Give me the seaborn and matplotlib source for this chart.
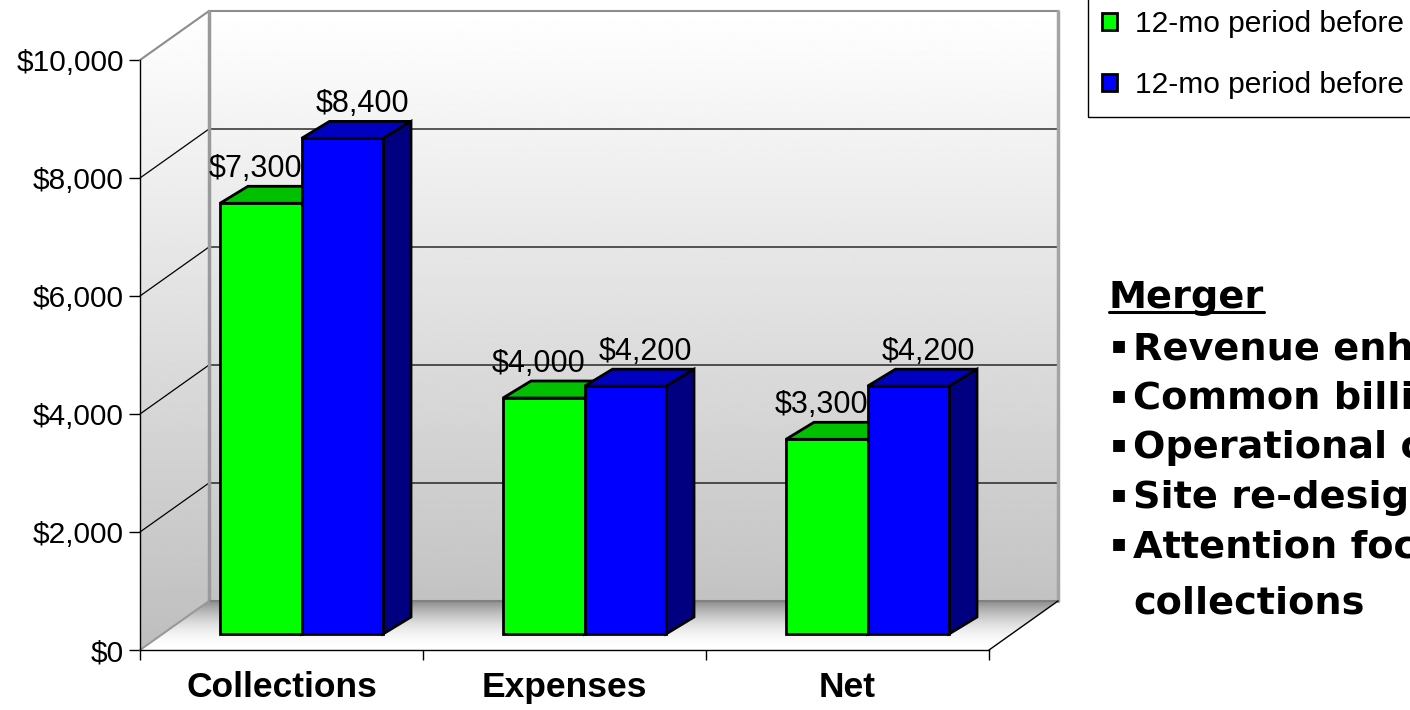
import numpy as np
import pandas as pd
import matplotlib
matplotlib.use("Agg")
import matplotlib.pyplot as plt
from matplotlib.patches import Polygon, Rectangle, Patch
from matplotlib.lines import Line2D
from matplotlib.ticker import FuncFormatter
import seaborn as sns

# ---- data ----
categories = ["Collections", "Expenses", "Net"]
periods = ["period_1", "period_2"]
legend_labels = ["12-mo period before", "12-mo period before"]
values_period_1 = [7300, 4000, 3300]
values_period_2 = [8400, 4200, 4200]
y_ticks = [0, 2000, 4000, 6000, 8000, 10000]

notes_title = "Merger"
notes = ["Revenue enhancement", "Common billing", "Operational consolidation",
         "Site re-design", "Attention focused on"]
notes_wrap = "collections"

# ---- style ----
front_colors = ["#00ff00", "#0000ff"]
top_colors = ["#00c000", "#0000c0"]
side_colors = ["#008000", "#000080"]

df = pd.DataFrame({
    "category": categories * 2,
    "period": [periods[0]] * len(categories) + [periods[1]] * len(categories),
    "value": values_period_1 + values_period_2,
})

W, H = 1410, 710
sns.set_style("white", {"axes.edgecolor": "black", "text.color": "black",
                        "xtick.color": "black", "ytick.color": "black"})
plt.rcParams["font.family"] = ["Liberation Sans", "DejaVu Sans"]

fig = plt.figure(figsize=(W / 100, H / 100), dpi=100)
ax = fig.add_axes([0, 0, 1, 1])

# front plane geometry: pixels per category / per dollar, origin pixel
PX_CAT = 283.0
PX_VAL = 0.059
X0_PX, Y0_PX = 140, 650


def px_x(n):
    return n / PX_CAT


def px_y(n):
    return n / PX_VAL


xlim = (-0.5 - X0_PX / PX_CAT, -0.5 + (W - X0_PX) / PX_CAT)
ylim = (-(H - Y0_PX) / PX_VAL, Y0_PX / PX_VAL)

DX, DY = px_x(69), px_y(49)   # depth of the floor / side wall
BX, BY = px_x(20), px_y(16)   # offset of the bars' front faces
SX, SY = px_x(28), px_y(17)   # depth of each bar
left, right = -0.5, len(categories) - 0.5
top = y_ticks[-1]

# ---- walls and floor ----
wall_poly = Polygon([(left, 0), (left, top), (left + DX, top + DY), (right + DX, top + DY),
                     (right + DX, DY), (left + DX, DY)], closed=True, fc="none", ec="none")
ax.add_patch(wall_poly)
wall_grad = np.linspace(0.745, 1.0, 256).reshape(-1, 1)
im = ax.imshow(wall_grad, extent=(left, right + DX, 0, top + DY), origin="lower", cmap="gray",
               vmin=0, vmax=1, aspect="auto", interpolation="bilinear", zorder=0)
im.set_clip_path(wall_poly)

floor_poly = Polygon([(left, 0), (left + DX, DY), (right + DX, DY), (right, 0)],
                     closed=True, fc="none", ec="none")
ax.add_patch(floor_poly)
s = np.linspace(0, 1, 256)
floor_grad = (1 - 0.47 * s ** 2).reshape(-1, 1)
fim = ax.imshow(floor_grad, extent=(left, right + DX, 0, DY), origin="lower", cmap="gray",
                vmin=0, vmax=1, aspect="auto", interpolation="bilinear", zorder=0.5)
fim.set_clip_path(floor_poly)

# gridlines across the side wall and back wall
for v in y_ticks[1:-1]:
    ax.plot([left, left + DX, right + DX], [v, v + DY, v + DY], color="black", lw=0.9, zorder=1.5)

# wall / floor edges
ax.plot([left, left + DX], [top, top + DY], color="#8c8c8c", lw=1.5, zorder=1.6)
ax.plot([left + DX, right + DX], [top + DY, top + DY], color="#8c8c8c", lw=1.5, zorder=1.6)
ax.plot([left + DX, left + DX], [DY, top + DY], color="#9a9a9a", lw=2.5, zorder=1.6)
ax.plot([right + DX, right + DX], [DY, top + DY], color="#a4a4a4", lw=2.5, zorder=1.6)
ax.plot([left + DX, right + DX], [DY, DY], color="#808080", lw=1.5, zorder=1.6)
ax.plot([left, left + DX], [0, DY], color="#999999", lw=1.5, zorder=1.6)
ax.plot([right, right + DX], [0, DY], color="black", lw=1, zorder=1.6)

# ---- bars ----
sns.barplot(data=df, x="category", y="value", hue="period", order=categories,
            hue_order=periods, palette=dict(zip(periods, front_colors)), width=0.576,
            gap=0, saturation=1, edgecolor="black", linewidth=2, errorbar=None,
            legend=False, ax=ax)

label_dx = [px_x(-5), px_x(20)]
for i, cont in enumerate(ax.containers):
    for rect in cont:
        x0 = rect.get_x() + BX
        w = rect.get_width()
        h = rect.get_height()
        rect.set_x(x0)
        rect.set_y(BY)
        z = 3 + i
        rect.set_zorder(z + 0.1)
        y1 = BY + h
        ax.add_patch(Polygon([(x0, y1), (x0 + w, y1), (x0 + w + SX, y1 + SY), (x0 + SX, y1 + SY)],
                             closed=True, fc=top_colors[i], ec="black", lw=2, zorder=z))
        ax.add_patch(Polygon([(x0 + w, BY), (x0 + w, y1), (x0 + w + SX, y1 + SY),
                              (x0 + w + SX, BY + SY)],
                             closed=True, fc=side_colors[i], ec="black", lw=2, zorder=z))
        ax.text(x0 + w / 2 + label_dx[i], y1 + SY + px_y(9), f"${h:,.0f}",
                ha="center", va="baseline", fontsize=22, zorder=6)

# ---- axes ----
ax.set_xlim(xlim)
ax.set_ylim(ylim)
ax.set_xlabel("")
ax.set_ylabel("")
for sp in ["top", "right"]:
    ax.spines[sp].set_visible(False)
ax.spines["left"].set_position(("data", left))
ax.spines["left"].set_bounds(0, top)
ax.spines["bottom"].set_position(("data", 0))
ax.spines["bottom"].set_bounds(left, right)
for sp in ["left", "bottom"]:
    ax.spines[sp].set_linewidth(1)
    ax.spines[sp].set_color("black")

ax.set_yticks(y_ticks)
ax.yaxis.set_major_formatter(FuncFormatter(lambda v, _: f"${v:,.0f}"))
ax.tick_params(axis="y", left=True, length=8, width=1, pad=3.5, labelsize=21.5)
ax.set_xticks(range(len(categories)), labels=categories)
ax.set_xticks([left + k for k in range(len(categories) + 1)], minor=True)
ax.tick_params(axis="x", which="major", bottom=True, length=0, pad=15, labelsize=25.5)
ax.tick_params(axis="x", which="minor", bottom=True, length=7, width=1)
for lab in ax.get_xticklabels():
    lab.set_fontweight("bold")


# ---- legend ----
def fx(px):
    return px / W


def fy(py):
    return 1 - py / H


handles = [Patch(facecolor=c, edgecolor="black", linewidth=2) for c in front_colors]
fig.legend(handles, legend_labels, loc="upper left", bbox_to_anchor=(fx(1102), fy(10)),
           frameon=False, fontsize=21.5, handlelength=0.5, handleheight=0.5,
           handletextpad=0.62, labelspacing=1.12, borderpad=0, borderaxespad=0)
fig.add_artist(Rectangle((fx(1088), fy(117)), (W + 20 - 1088) / W, (117 + 20) / H,
                         transform=fig.transFigure, fill=False, ec="black", lw=1))

# ---- notes ----
note_font = dict(fontsize=27.5, fontweight="bold", family=["DejaVu Sans"], va="baseline")
title = fig.text(fx(1109), fy(308), notes_title, **note_font)
baselines = [359, 409, 458, 508, 557]
for text, b in zip(notes, baselines):
    fig.text(fx(1111), fy(b - 7), "\u25aa", fontsize=17, family=["DejaVu Sans"], va="baseline")
    fig.text(fx(1133), fy(b), text, **note_font)
fig.text(fx(1133), fy(613), notes_wrap, **note_font)

fig.canvas.draw()
bb = title.get_window_extent()
fig.add_artist(Line2D([bb.x0 / W, bb.x1 / W], [fy(312), fy(312)], transform=fig.transFigure,
                      color="black", lw=2.2))

fig.savefig("out.png", dpi=100)
